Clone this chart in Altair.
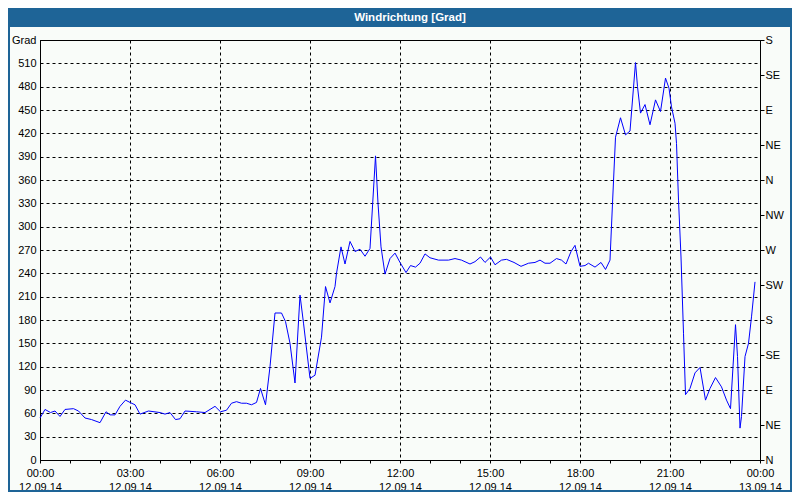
import json
import altair as alt
import pandas as pd

# ---- data (minutes after 12.09.14 00:00, wind direction in degrees) ----
minutes = [0, 10, 21, 30, 40, 50, 67, 77, 90, 103, 120, 132, 140, 150, 160, 171, 180, 190, 200, 217,
           240, 250, 260, 271, 280, 290, 313, 330, 350, 361, 373, 383, 393, 403, 413, 423, 433, 441, 451, 460,
           470, 483, 491, 500, 510, 520, 527, 540, 550, 563, 571, 580, 590, 593, 602, 610, 620, 630, 640, 650,
           660, 671, 676, 682, 690, 700, 710, 720, 732, 741, 751, 760, 770, 780, 797, 817, 830, 843, 860, 870,
           881, 890, 901, 910, 923, 933, 948, 962, 977, 990, 1000, 1010, 1020, 1033, 1043, 1052, 1062, 1070, 1080, 1090,
           1097, 1110, 1122, 1131, 1140, 1145, 1151, 1161, 1171, 1180, 1191, 1195, 1201, 1210, 1220, 1231, 1241, 1251, 1258,
           1263, 1270, 1273, 1277, 1282, 1287, 1291, 1300, 1310, 1320, 1331, 1340, 1351, 1363, 1373, 1381, 1391, 1395,
           1400, 1403, 1410, 1417, 1423, 1430]
direction = [54, 65, 61, 63, 56, 65, 66, 63, 54, 52, 48, 62, 58, 58, 69, 77, 74, 71, 59, 63,
             61, 59, 61, 52, 53, 63, 62, 61, 69, 62, 64, 73, 75, 73, 73, 71, 74, 92, 71, 120,
             189, 189, 178, 150, 99, 212, 176, 105, 109, 158, 223, 202, 223, 240, 274, 252, 281, 268, 271, 262,
             272, 391, 330, 274, 239, 259, 266, 254, 241, 250, 248, 253, 265, 260, 257, 257, 259, 257, 252, 255,
             261, 254, 261, 251, 257, 258, 254, 249, 253, 254, 257, 253, 253, 259, 257, 252, 268, 276, 249, 250,
             253, 248, 254, 245, 257, 330, 415, 440, 418, 423, 511, 480, 446, 457, 431, 463, 448, 491, 478,
             454, 433, 407, 334, 261, 163, 84, 92, 112, 119, 77, 92, 106, 94, 77, 66, 174, 133,
             41, 56, 133, 150, 184, 229]

y_ticks = list(range(0, 541, 30))
x_ticks = list(range(0, 1441, 60))
x_label_times = ["00:00", "03:00", "06:00", "09:00", "12:00", "15:00", "18:00", "21:00", "00:00"]
x_label_dates = ["12.09.14"] * 8 + ["13.09.14"]
compass_deg = list(range(0, 541, 45))
compass_labels = ["N", "NE", "E", "SE", "S", "SW", "W", "NW", "N", "NE", "E", "SE", "S"]
title_text = "Windrichtung [Grad]"
y_top_label = "Grad"

FONT = "Liberation Sans"
BLUE_BAR = "#1e6497"

df = pd.DataFrame({"t": minutes, "v": direction})
comp_df = pd.DataFrame({"deg": compass_deg})
one = pd.DataFrame({"k": [0]})

x_pairs = [[a, b] for a, b in zip(x_label_times, x_label_dates)]
x_label_expr = "datum.value % 180 === 0 ? " + json.dumps(x_pairs) + "[datum.value / 180] : ''"
right_label_expr = json.dumps(compass_labels) + "[round(datum.value / 45)]"

xaxis = alt.Axis(
    values=x_ticks, labelExpr=x_label_expr, title=None,
    grid=True, gridColor="black", gridDash=[3, 3], gridWidth=1,
    gridOpacity={"condition": {"test": "datum.value % 180 === 0", "value": 1}, "value": 0},
    tickSize=3, tickColor="black", domainColor="black", domainWidth=1,
    labelFont=FONT, labelFontSize=11, labelColor="black", labelPadding=4,
    labelLineHeight=14, labelOverlap=False, labelFlush=False, labelBound=False,
    labelAngle=0, labelAlign="center", labelBaseline="top",
)
yaxis = alt.Axis(
    orient="left", values=y_ticks,
    labelExpr="datum.value === 540 ? '" + y_top_label + "' : datum.label",
    title=None, grid=True, gridColor="black", gridDash=[3, 3], gridWidth=1,
    ticks=False, tickSize=0, domainColor="black", domainWidth=1,
    labelFont=FONT, labelFontSize=11, labelColor="black", labelPadding=4,
    labelOverlap=False, labelFlush=False, labelBound=False,
)
raxis = alt.Axis(
    orient="right", values=compass_deg, labelExpr=right_label_expr, title=None,
    grid=False, tickSize=4, tickColor="black", domainColor="black", domainWidth=1,
    labelFont=FONT, labelFontSize=11, labelColor="black", labelPadding=1,
    labelOverlap=False, labelFlush=False, labelBound=False, labelAlign="left",
)

bar = alt.Chart(one).mark_rect(color=BLUE_BAR).encode(
    x=alt.value(-32), x2=alt.value(752), y=alt.value(-32), y2=alt.value(-13)
)
title = alt.Chart(one).mark_text(
    text=title_text, color="white", font=FONT, fontSize=11.5, fontWeight="bold",
    align="center", baseline="middle",
).encode(x=alt.value(370), y=alt.value(-22))
frame = alt.Chart(one).mark_rect(filled=False, stroke=BLUE_BAR, strokeWidth=2).encode(
    x=alt.value(-31), x2=alt.value(751), y=alt.value(-31), y2=alt.value(451)
)

line = alt.Chart(df).mark_line(color="#0000ff", strokeWidth=1).encode(
    x=alt.X("t:Q", scale=alt.Scale(domain=[0, 1440], nice=False, zero=False), axis=xaxis),
    y=alt.Y("v:Q", scale=alt.Scale(domain=[0, 540], nice=False), axis=yaxis),
)
right = alt.Chart(comp_df).mark_point(opacity=0).encode(
    y=alt.Y("deg:Q", scale=alt.Scale(domain=[0, 540], nice=False), axis=raxis),
)

chart = alt.layer(bar, title, frame, line, right).resolve_scale(y="independent").properties(
    width=720, height=420,
    autosize=alt.AutoSizeParams(type="none"),
    padding={"left": 32, "top": 32, "right": 32, "bottom": 32},
    background="#f9fcf9",
).configure_view(stroke="black", strokeWidth=1)

chart.save("out.html", embed_options={"renderer": "svg", "actions": False})
